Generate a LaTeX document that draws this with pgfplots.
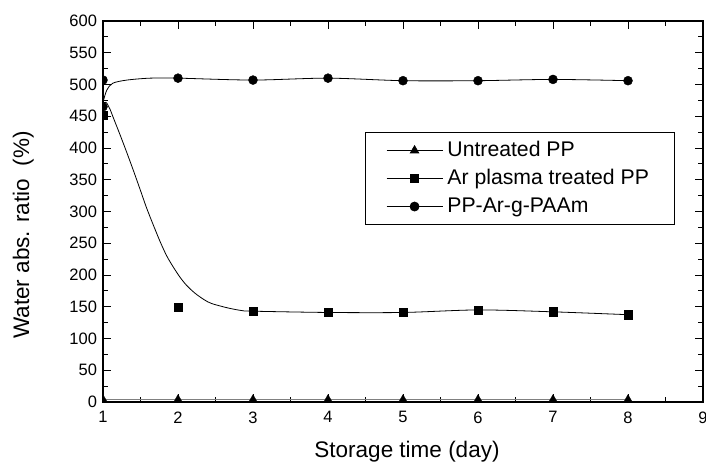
\documentclass[border=0pt]{standalone}
\usepackage{fontspec}
\setmainfont{Liberation Sans}
\usepackage{pgfplots}
\pgfplotsset{compat=1.18}

\begin{document}
\begin{tikzpicture}
\begin{axis}[
  at={(0pt,0pt)}, anchor=south west,
  scale only axis, width=600pt, height=381pt,
  xmin=1, xmax=9, ymin=0, ymax=600,
  xtick={1,2,...,9}, ytick={0,50,...,600},
  minor x tick num=1, minor y tick num=1,
  tick align=inside,
  major tick length=8pt, minor tick length=5pt,
  axis line style={line width=1.3pt},
  every tick/.style={black, line width=1pt},
  /pgf/number format/assume math mode=true,
  tick label style={font=\fontsize{16.5}{18}\selectfont},
  xticklabel style={yshift=-6pt},
  yticklabel style={xshift=-2.5pt},
  xlabel={Storage time (day)},
  ylabel={Water abs. ratio~~(\%)},
  label style={font=\fontsize{22.5}{26}\selectfont},
  xlabel style={at={(axis description cs:0.5,0)}, anchor=base, yshift=-55pt, xshift=4pt},
  ylabel style={at={(axis description cs:-0.133,0.438)}, anchor=center},
  clip marker paths=true,
  legend image code/.code={
    \draw[mark repeat=2,mark phase=2] plot coordinates {(0pt,0pt) (28pt,0pt) (56pt,0pt)};
  },
  legend cell align=left,
  legend style={
    at={(axis cs:4.49,425)}, anchor=north west,
    draw=black, line width=0.8pt,
    font=\fontsize{21.2}{24}\selectfont,
    nodes={text height=15pt, text depth=4pt, inner sep=4.5pt},
    inner xsep=21pt, inner ysep=4pt
  }
]
% fitted curves
\addplot[black, line width=0.8pt, smooth, forget plot] coordinates {
  (1,470) (1.04,472) (1.09,462) (1.14,447) (1.23,420) (1.32,392) (1.41,363)
  (1.5,333) (1.58,306) (1.67,279) (1.76,253) (1.85,230) (1.94,212) (2.03,196)
  (2.12,183) (2.23,171) (2.35,161) (2.45,155) (2.67,148) (2.85,144) (3,143)
  (4,141) (5,141) (6,145) (7,142) (8,137.5)
};
\addplot[black, line width=0.8pt, smooth, forget plot] coordinates {
  (1,472) (1.05,491) (1.13,502) (1.32,507) (1.63,510) (2,510)
  (3,507) (4,510) (5,506) (6,506) (7,508) (8,506)
};
\addplot[gray, line width=1pt, forget plot] coordinates {
  (1,4) (2,4) (3,4) (4,4) (5,4) (6,4) (7,4) (8,4)
};
% measured points
\addplot[draw=none, mark=triangle*, mark size=4.8pt, mark options={fill=black, draw=black}, forget plot]
  coordinates {(1,4) (2,4) (3,4) (4,4) (5,4) (6,4) (7,4) (8,4)};
\addplot[draw=none, mark=square*, mark size=4.2pt, mark options={fill=black, draw=black}, forget plot]
  coordinates {(1,452) (2,149) (3,143) (4,141) (5,141) (6,145) (7,142) (8,137.5)};
\addplot[draw=none, mark=*, mark size=4.5pt, mark options={fill=black, draw=black}, forget plot]
  coordinates {(1,507) (1,465) (2,510) (3,507) (4,510) (5,506) (6,506) (7,508) (8,506)};
% legend
\addlegendimage{black, line width=0.8pt, mark=triangle*, mark size=4.8pt, mark options={fill=black}}
\addlegendentry{Untreated PP}
\addlegendimage{black, line width=0.8pt, mark=square*, mark size=4.2pt, mark options={fill=black}}
\addlegendentry{Ar plasma treated PP\hspace{17pt}}
\addlegendimage{black, line width=0.8pt, mark=*, mark size=4.5pt, mark options={fill=black}}
\addlegendentry{PP-Ar-g-PAAm}
\end{axis}
\pgfresetboundingbox
\path[use as bounding box] (-103pt,-61pt) rectangle (603pt,402pt);
\end{tikzpicture}
\end{document}
